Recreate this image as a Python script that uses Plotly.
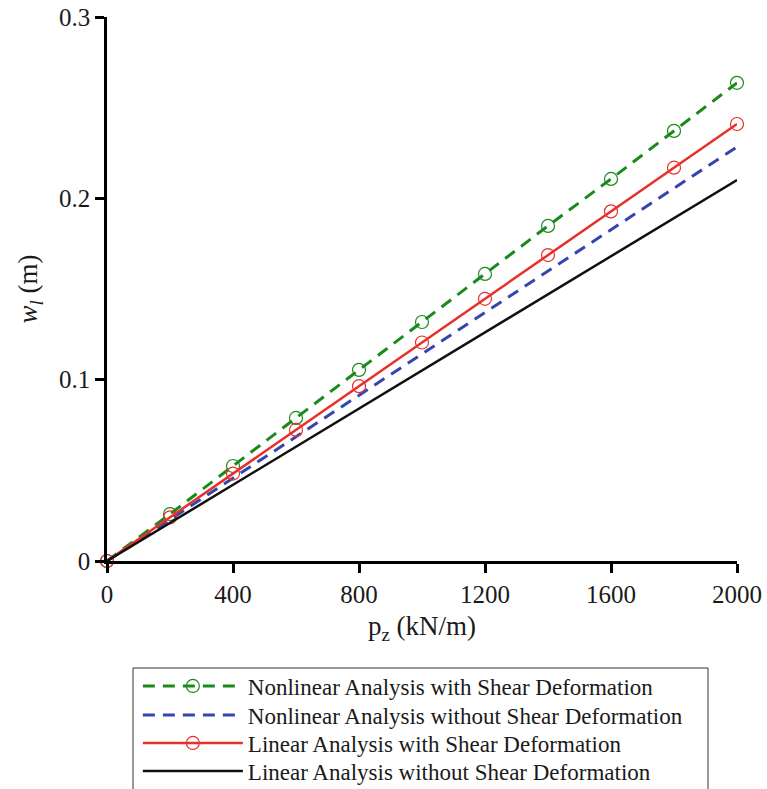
import plotly.graph_objects as go

pz = [0, 200, 400, 600, 800, 1000, 1200, 1400, 1600, 1800, 2000]
nl_shear = [0, 0.0259, 0.0524, 0.0789, 0.1054, 0.1318, 0.1583, 0.1848, 0.2107, 0.2372, 0.2637]
nl_noshear = [0, 0.0228, 0.0457, 0.0685, 0.0914, 0.1142, 0.1370, 0.1599, 0.1827, 0.2056, 0.2284]
lin_shear = [0, 0.0241, 0.0482, 0.0723, 0.0964, 0.1205, 0.1446, 0.1687, 0.1928, 0.2169, 0.2410]
lin_noshear = [0, 0.0210, 0.0420, 0.0630, 0.0840, 0.1050, 0.1261, 0.1471, 0.1681, 0.1891, 0.2101]

x_ticks = [0, 400, 800, 1200, 1600, 2000]
y_ticks = [0, 0.1, 0.2, 0.3]
y_tick_labels = ["0", "0.1", "0.2", "0.3"]

names = ["Nonlinear Analysis with Shear Deformation",
         "Nonlinear Analysis without Shear Deformation",
         "Linear Analysis with Shear Deformation",
         "Linear Analysis without Shear Deformation"]

fig = go.Figure()
fig.add_trace(go.Scatter(x=pz, y=nl_shear, name=names[0], mode="lines+markers", legend="legend",
                         line=dict(color="#1a8a1a", width=3, dash="12px,8px"),
                         marker=dict(symbol="circle-open", size=13, color="#1a8a1a", line=dict(width=1.2))))
fig.add_trace(go.Scatter(x=pz, y=nl_noshear, name=names[1], mode="lines", legend="legend2",
                         line=dict(color="#3346b0", width=3, dash="12px,8px")))
fig.add_trace(go.Scatter(x=pz, y=lin_shear, name=names[2], mode="lines+markers", legend="legend3",
                         line=dict(color="#e8302a", width=2.5),
                         marker=dict(symbol="circle-open", size=13, color="#e8302a", line=dict(width=1.2))))
fig.add_trace(go.Scatter(x=pz, y=lin_noshear, name=names[3], mode="lines", legend="legend4",
                         line=dict(color="#111111", width=2.5)))

font_family = "Liberation Serif, Times New Roman, serif"
leg_font = dict(family=font_family, size=23, color="#1a1a1a")
def leg(yc):
    return dict(x=0.049, y=yc, xanchor="left", yanchor="middle", bgcolor="rgba(0,0,0,0)",
                borderwidth=0, font=leg_font, itemwidth=100)

fig.update_layout(
    width=767, height=789,
    margin=dict(l=107, r=30, t=17, b=228, autoexpand=False),
    plot_bgcolor="white", paper_bgcolor="white",
    font=dict(family=font_family, size=24, color="#1a1a1a"),
    showlegend=True,
    legend=leg(-0.2298),
    legend2=leg(-0.2831),
    legend3=leg(-0.3346),
    legend4=leg(-0.3860),
    shapes=[dict(type="rect", xref="paper", yref="paper", x0=0.0413, x1=0.954,
                 y0=-0.1967, y1=-0.45, line=dict(color="#333333", width=1),
                 fillcolor="rgba(0,0,0,0)", layer="below")],
    xaxis=dict(range=[0, 2000], tickvals=x_ticks, ticks="outside", ticklen=9, tickwidth=2.5,
               tickcolor="black", showline=True, linecolor="black", linewidth=2.5,
               showgrid=False, zeroline=False, tickfont=dict(size=25),
               title=dict(text="p<sub>z</sub> (kN/m)", font=dict(size=27), standoff=10)),
    yaxis=dict(range=[0, 0.3], tickvals=y_ticks, ticktext=y_tick_labels, ticks="outside",
               ticklen=9, tickwidth=2.5, tickcolor="black", showline=True, linecolor="black",
               linewidth=2.5, showgrid=False, zeroline=False, tickfont=dict(size=25),
               title=dict(text="<i>w</i><sub><i>l</i></sub> (m)", font=dict(size=27), standoff=14)),
)
fig.update_traces(cliponaxis=False)

fig.write_html("out.html")
